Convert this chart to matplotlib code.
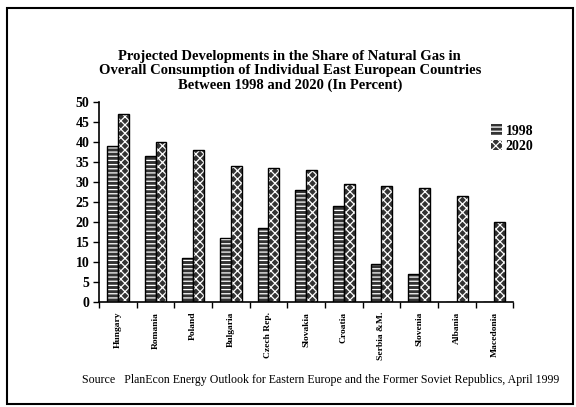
import matplotlib
matplotlib.use("Agg")
import matplotlib.pyplot as plt
import numpy as np
from matplotlib.patches import Rectangle

countries = ["Hungary", "Romania", "Poland", "Bulgaria", "Czech Rep.", "Slovakia",
             "Croatia", "Serbia &M.", "Slovenia", "Albania", "Macedonia"]
share_1998 = [39, 36.5, 11, 16, 18.5, 28, 24, 9.5, 7, 0, 0]
share_2020 = [47, 40, 38, 34, 33.5, 33, 29.5, 29, 28.5, 26.5, 20]
yticks = [0, 5, 10, 15, 20, 25, 30, 35, 40, 45, 50]
series_labels = ["1998", "2020"]

title = ("Projected Developments in the Share of Natural Gas in\n"
         "Overall Consumption of Individual East European Countries\n"
         "Between 1998 and 2020 (In Percent)")
source = ("Source   PlanEcon Energy Outlook for Eastern Europe and the Former "
          "Soviet Republics, April 1999")

SERIF = ["Liberation Serif", "DejaVu Serif"]

fig = plt.figure(figsize=(5.76, 4.07), dpi=100)
fig.patch.set_facecolor("white")

ax = fig.add_axes([0.172, 0.258, 0.719, 0.491])

x = np.arange(len(countries))
w = 0.29
styles = [dict(face="#333333", hatch="----"), dict(face="#333333", hatch="xxxx")]

plt.rcParams["hatch.linewidth"] = 0.9
handles = []
for vals, off, st, lab in zip([share_1998, share_2020], [-w / 2, w / 2], styles, series_labels):
    b = ax.bar(x + off, vals, width=w, facecolor=st["face"], edgecolor="white",
               hatch=st["hatch"], linewidth=0, label=lab, zorder=2)
    ax.bar(x + off, vals, width=w, facecolor="none", edgecolor="black",
           linewidth=1.0, zorder=3)
    handles.append(b)

ax.set_xlim(-0.5, len(countries) - 0.5)
ax.set_ylim(0, 50)
ax.set_yticks(yticks)
ax.set_yticklabels([str(t) for t in yticks], fontfamily=SERIF,
                   fontweight="bold", fontsize=10)
ax.set_xticks(np.arange(len(countries) + 1) - 0.5)
ax.set_xticklabels([])
ax.set_xticks(x, minor=True)
ax.set_xticklabels(countries, minor=True, rotation=90, fontfamily=SERIF,
                   fontweight="bold", fontsize=6.8, va="top")
ax.tick_params(axis="x", which="minor", length=0, pad=7)
ax.tick_params(axis="x", which="major", length=4, width=1, direction="out")
ax.tick_params(axis="y", length=4, width=1, direction="out", pad=3)
for s in ["top", "right"]:
    ax.spines[s].set_visible(False)
for s in ["left", "bottom"]:
    ax.spines[s].set_linewidth(1.2)

fig.legend(handles, series_labels, loc="upper left",
           bbox_to_anchor=(0.83, 0.725), frameon=False, handlelength=0.8,
           handleheight=0.8, handletextpad=0.3, labelspacing=0.15,
           prop=dict(family=SERIF, weight="bold", size=10))

fig.text(0.503, 0.878, title, ha="center", va="top", fontfamily=SERIF,
         fontweight="bold", fontsize=10.5, linespacing=1.12)
fig.text(0.143, 0.066, source, ha="left", va="center", fontfamily=SERIF,
         fontsize=8.55)

# page border
fig.patches.append(Rectangle((7 / 576, 3 / 407), 566 / 576, 396 / 407,
                             transform=fig.transFigure, fill=False,
                             edgecolor="black", linewidth=1.5))

fig.savefig("out.png", dpi=100)
